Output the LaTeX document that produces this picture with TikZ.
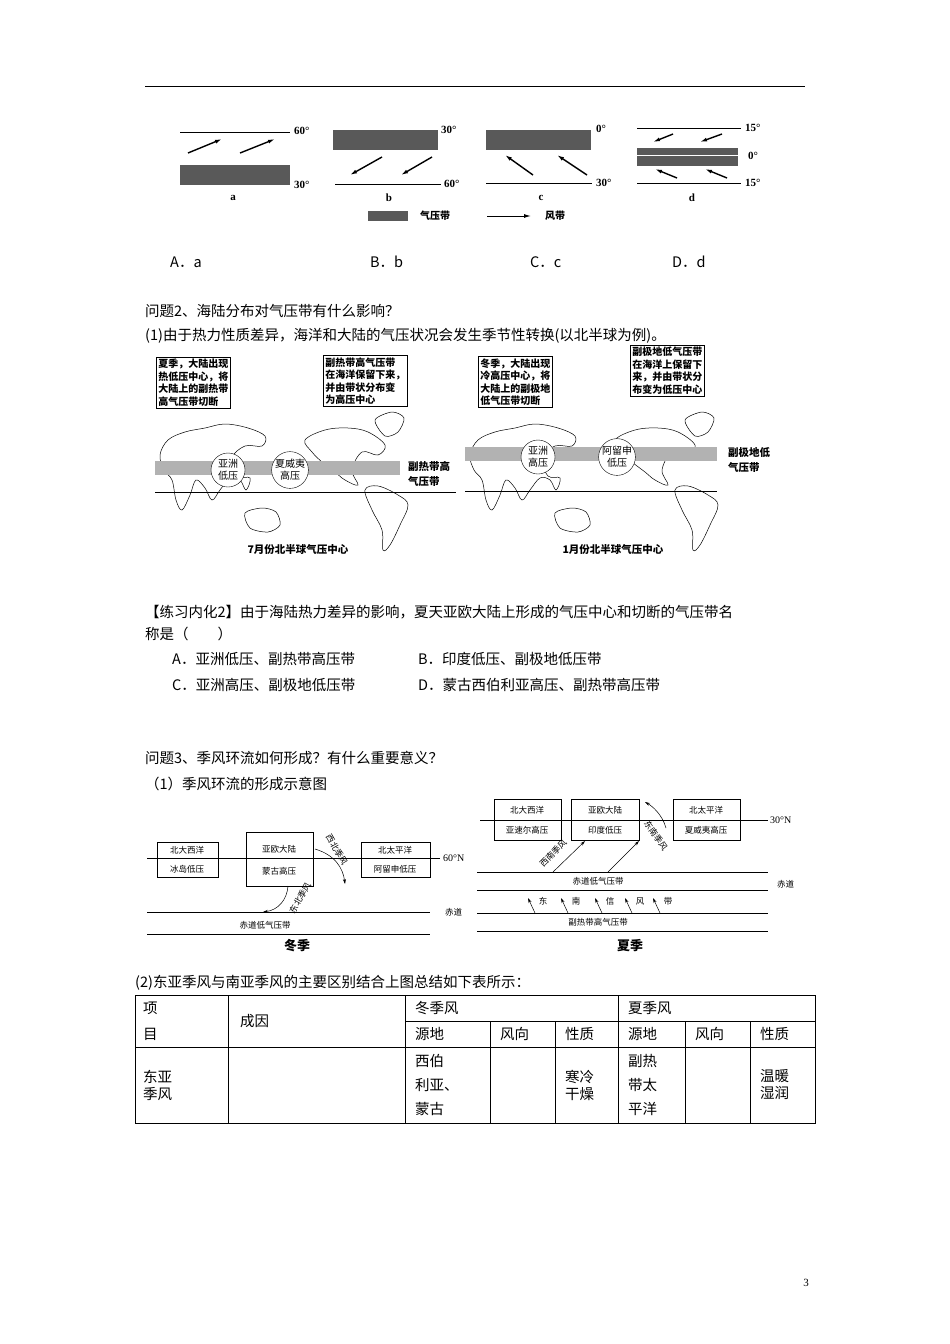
\documentclass[tikz,border=0pt]{standalone}
\usepackage{fontspec}
\setmainfont{Noto Sans CJK SC}
\newfontfamily\lat{Liberation Serif}
\usetikzlibrary{arrows.meta}
\begin{document}
\begin{tikzpicture}[x=1pt,y=-1pt,
  body/.style={anchor=west,inner sep=0,font=\fontsize{14.5}{17}\selectfont},
  sm/.style={inner sep=0,font=\fontsize{10}{12}\selectfont},
  tiny/.style={inner sep=0,font=\fontsize{8.5}{10}\selectfont},
  band/.style={fill=black!65},
  mband/.style={fill=black!30},
  lat/.style={inner sep=0,font=\lat\bfseries\fontsize{11}{12}\selectfont},
  wind/.style={-{Latex[length=7pt,width=4pt]},line width=1.4pt},
  thin/.style={-{Stealth[length=5pt,width=3pt]},line width=0.5pt},
  cbox/.style={draw,line width=0.8pt,fill=white,align=left,inner sep=2pt,font=\bfseries\fontsize{10}{12.5}\selectfont},
  cont/.style={draw,line width=0.5pt}]
\useasboundingbox[fill=white] (0,0) rectangle (950,1344);
\draw[line width=0.8pt] (145,86) -- (805,86);
% panel a
\draw[line width=1pt] (180,132) -- (290,132); \node[lat,anchor=west] (a60) at (294,131) {60°};
\fill[band] (180,165) rectangle (290,185); \node[lat,anchor=west] (a30) at (294,185) {30°};
\draw[wind] (188,153) -- (222,139); \draw[wind] (240,153) -- (275,139);
\node[lat] (la) at (233,198) {a};
% panel b
\fill[band] (333,130) rectangle (438,150); \node[lat,anchor=west] (b30) at (441,130) {30°};
\draw[line width=0.6pt] (335,184) -- (441,184); \node[lat,anchor=west] (b60) at (444,184) {60°};
\draw[wind] (382,157) -- (350,175); \draw[wind] (432,157) -- (401,175);
\node[lat] (lb) at (389,198) {b};
% panel c
\fill[band] (486,130) rectangle (591,150); \node[lat,anchor=west] (c0) at (596,129) {0°};
\draw[line width=0.6pt] (486,183) -- (592,183); \node[lat,anchor=west] (c30) at (596,183) {30°};
\draw[wind] (533,175) -- (505,155); \draw[wind] (587,175) -- (557,155);
\node[lat] (lc) at (541,198) {c};
% panel d
\draw[line width=0.6pt] (637,128) -- (741,128); \node[lat,anchor=west] (d15a) at (745,128) {15°};
\fill[band] (637,148) rectangle (738,166); \draw[white,line width=1pt] (637,155) -- (738,155);
\node[lat,anchor=west] (d0) at (748,156) {0°};
\draw[line width=0.6pt] (637,183) -- (741,183); \node[lat,anchor=west] (d15b) at (745,183) {15°};
\draw[wind] (673,134) -- (653,142); \draw[wind] (722,134) -- (700,142);
\draw[wind] (677,178) -- (655,169); \draw[wind] (727,178) -- (705,169);
\node[lat] (ld) at (692,198) {d};
% legend
\fill[band] (368,211) rectangle (408,221);
\node[sm,anchor=west,font=\bfseries\fontsize{10}{12}\selectfont] (lg1) at (420,216) {气压带};
\draw[wind,line width=1pt] (487,216) -- (531,216);
\node[sm,anchor=west,font=\bfseries\fontsize{10}{12}\selectfont] (lg2) at (545,216) {风带};
% options
\node[body] (oA) at (170,262) {A．a};
\node[body] (oB) at (370,262) {B．b};
\node[body] (oC) at (530,262) {C．c};
\node[body] (oD) at (672,262) {D．d};
\node[body] (q2) at (145,311) {问题2、海陆分布对气压带有什么影响？};
\node[body] (q21) at (145,336) {(1)由于热力性质差异，海洋和大陆的气压状况会发生季节性转换(以北半球为例)。};
% left map
\begin{scope}
\draw[cont] plot[smooth cycle,tension=0.6] coordinates {(160,455)(168,440)(185,432)(205,428)(225,424)(248,428)(265,436)(262,446)(245,446)(232,458)(238,476)(250,478)(246,490)(240,480)(230,478)(220,490)(212,500)(205,488)(196,480)(190,495)(182,510)(176,500)(172,480)(164,470)};
\draw[cont] plot[smooth cycle] coordinates {(245,513)(262,508)(276,512)(280,525)(268,532)(250,528)};
\draw[cont] plot[smooth cycle,tension=0.6] coordinates {(305,440)(325,430)(348,428)(368,432)(385,445)(378,455)(362,452)(352,470)(358,485)(345,480)(335,472)(322,462)(312,452)};
\draw[cont] plot[smooth cycle,tension=0.6] coordinates {(365,490)(378,486)(398,495)(408,505)(400,525)(390,545)(383,550)(382,530)(372,510)};
\draw[cont] plot[smooth cycle] coordinates {(375,420)(392,412)(404,418)(398,432)(385,436)};
\end{scope}
\fill[mband] (155,461) rectangle (400,475);
\draw[line width=0.7pt] (155,492) -- (456,492);
\node[circle,draw,fill=white,minimum size=34pt,inner sep=0,align=center,sm] (c1) at (228,470) {亚洲\\低压};
\node[circle,draw,fill=white,minimum size=34pt,inner sep=0,align=center,sm] (c2) at (290,470) {夏威夷\\高压};
\node[cbox,anchor=north west] (b1) at (156,357) {夏季，大陆出现\\热低压中心，将\\大陆上的副热带\\高气压带切断};
\node[cbox,anchor=north west] (b2) at (323,355) {副热带高气压带\\在海洋保留下来，\\并由带状分布变\\为高压中心};
\node[inner sep=0,align=left,anchor=west,font=\bfseries\fontsize{10.5}{15}\selectfont] (l1) at (408,474) {副热带高\\气压带};
\node[inner sep=0,font=\bfseries\fontsize{10.5}{12}\selectfont] (cap1) at (298,550) {7月份北半球气压中心};
% right map
\begin{scope}[xshift=310]
\draw[cont] plot[smooth cycle,tension=0.6] coordinates {(160,455)(168,440)(185,432)(205,428)(225,424)(248,428)(265,436)(262,446)(245,446)(232,458)(238,476)(250,478)(246,490)(240,480)(230,478)(220,490)(212,500)(205,488)(196,480)(190,495)(182,510)(176,500)(172,480)(164,470)};
\draw[cont] plot[smooth cycle] coordinates {(245,513)(262,508)(276,512)(280,525)(268,532)(250,528)};
\draw[cont] plot[smooth cycle,tension=0.6] coordinates {(305,440)(325,430)(348,428)(368,432)(385,445)(378,455)(362,452)(352,470)(358,485)(345,480)(335,472)(322,462)(312,452)};
\draw[cont] plot[smooth cycle,tension=0.6] coordinates {(365,490)(378,486)(398,495)(408,505)(400,525)(390,545)(383,550)(382,530)(372,510)};
\draw[cont] plot[smooth cycle] coordinates {(375,420)(392,412)(404,418)(398,432)(385,436)};
\end{scope}
\fill[mband] (465,447) rectangle (717,461);
\draw[line width=0.7pt] (465,491) -- (717,491);
\node[circle,draw,fill=white,minimum size=34pt,inner sep=0,align=center,sm] (c3) at (538,457) {亚洲\\高压};
\node[circle,draw,fill=white,minimum size=34pt,inner sep=0,align=center,sm] (c4) at (617,457) {阿留申\\低压};
\node[cbox,anchor=north west] (b3) at (478,356) {冬季，大陆出现\\冷高压中心，将\\大陆上的副极地\\低气压带切断};
\node[cbox,anchor=north west] (b4) at (630,345) {副极地低气压带\\在海洋上保留下\\来，并由带状分\\布变为低压中心};
\node[inner sep=0,align=left,anchor=west,font=\bfseries\fontsize{10.5}{15}\selectfont] (l2) at (728,460) {副极地低\\气压带};
\node[inner sep=0,font=\bfseries\fontsize{10.5}{12}\selectfont] (cap2) at (613,550) {1月份北半球气压中心};
% exercise
\node[body] (e1) at (145,612) {【练习内化2】由于海陆热力差异的影响，夏天亚欧大陆上形成的气压中心和切断的气压带名};
\node[body] (e2) at (145,634) {称是（　　）};
\node[body] (eA) at (172,659) {A．亚洲低压、副热带高压带};
\node[body] (eB) at (418,659) {B．印度低压、副极地低压带};
\node[body] (eC) at (172,685) {C．亚洲高压、副极地低压带};
\node[body] (eD) at (418,685) {D．蒙古西伯利亚高压、副热带高压带};
\node[body] (q3) at (145,758) {问题3、季风环流如何形成？有什么重要意义？};
\node[body] (q31) at (145,784) {（1）季风环流的形成示意图};
% winter monsoon
\draw[line width=0.7pt] (147,858) -- (440,858); \node[tiny,anchor=west,font=\lat\fontsize{10}{12}\selectfont] (w60) at (443,858) {60°N};
\draw (157,842) rectangle (218,877); \node[tiny] (wt1) at (187,850) {北大西洋}; \node[tiny] (wt2) at (187,869) {冰岛低压};
\draw (246,832) rectangle (313,886); \node[tiny] (wt3) at (279,849) {亚欧大陆}; \node[tiny] (wt4) at (279,871) {蒙古高压};
\draw (361,842) rectangle (430,877); \node[tiny] (wt5) at (395,850) {北太平洋}; \node[tiny] (wt6) at (395,869) {阿留申低压};
\draw[thin] (315,849) .. controls (335,855) and (343,868) .. (345,884);
\node[tiny,rotate=-60] (wl1) at (337,850) {西北季风};
\draw[thin] (288,886) .. controls (287,900) and (278,910) .. (263,912);
\node[tiny,rotate=60] (wl2) at (300,898) {东北季风};
\draw[line width=0.7pt] (147,912) -- (430,912); \node[tiny,anchor=west] (weq) at (445,912) {赤道};
\node[tiny] (wlow) at (265,925) {赤道低气压带};
\draw[line width=0.7pt] (147,934) -- (430,934);
\node[inner sep=0,font=\bfseries\fontsize{13}{15}\selectfont] (win) at (297,946) {冬季};
% summer monsoon
\draw[line width=0.7pt] (480,820) -- (768,820); \node[tiny,anchor=west,font=\lat\fontsize{10}{12}\selectfont] (s30) at (770,820) {30°N};
\draw (494,799) rectangle (561,840); \node[tiny] (st1) at (527,810) {北大西洋}; \node[tiny] (st2) at (527,830) {亚速尔高压};
\draw (571,799) rectangle (639,840); \node[tiny] (st3) at (605,810) {亚欧大陆}; \node[tiny] (st4) at (605,830) {印度低压};
\draw (673,799) rectangle (740,840); \node[tiny] (st5) at (706,810) {北太平洋}; \node[tiny] (st6) at (706,830) {夏威夷高压};
\draw[thin] (553,872) -- (585,841); \node[tiny,rotate=45] (sl1) at (553,853) {西南季风};
\draw[thin] (608,872) -- (639,841);
\draw[thin] (666,828) .. controls (662,814) and (652,806) .. (645,802);
\node[tiny,rotate=-55] (sl2) at (656,836) {东南季风};
\draw[line width=0.7pt] (477,872) -- (768,872);
\node[tiny] (slow) at (598,881) {赤道低气压带};
\draw[line width=0.7pt] (477,890) -- (768,890); \node[tiny,anchor=west] (seq) at (777,884) {赤道};
\foreach \x/\t in {543/东,576/南,610/信,640/风,668/带}{
  \draw[thin] (\x-8,913) -- (\x-15,898);
  \node[tiny] at (\x,901) {\t};}
\draw[line width=0.7pt] (477,913) -- (768,913);
\node[tiny] (shigh) at (598,922) {副热带高气压带};
\draw[line width=0.7pt] (477,931) -- (768,931);
\node[inner sep=0,font=\bfseries\fontsize{13}{15}\selectfont] (sum) at (630,946) {夏季};
% table
\node[body] (t0) at (135,983) {(2)东亚季风与南亚季风的主要区别结合上图总结如下表所示：};
\begin{scope}[line width=0.6pt]
\draw (135,995) rectangle (815,1123);
\draw (135,1047) -- (815,1047);
\draw (405,1021) -- (815,1021);
\foreach \x in {228,405,618} \draw (\x,995) -- (\x,1123);
\foreach \x in {490,555,685,750} \draw (\x,1021) -- (\x,1123);
\end{scope}
\node[body] (h1) at (143,1008) {项};
\node[body] (h2) at (143,1034) {目};
\node[body] (h3) at (240,1021) {成因};
\node[body] (h4) at (415,1008) {冬季风};
\node[body] (h5) at (628,1008) {夏季风};
\foreach \x/\t in {415/源地,500/风向,565/性质,628/源地,695/风向,760/性质}
  \node[body] at (\x,1034) {\t};
\node[body,align=left] (r1) at (143,1085) {东亚\\季风};
\node[body,align=left,font=\fontsize{14.5}{24}\selectfont] (r2) at (415,1085) {西伯\\利亚、\\蒙古};
\node[body,align=left] (r3) at (565,1085) {寒冷\\干燥};
\node[body,align=left,font=\fontsize{14.5}{24}\selectfont] (r4) at (628,1085) {副热\\带太\\平洋};
\node[body,align=left] (r5) at (760,1085) {温暖\\湿润};
\node[inner sep=0,font=\lat\fontsize{11}{12}\selectfont] (pg) at (806,1283) {3};
\end{tikzpicture}
\end{document}
